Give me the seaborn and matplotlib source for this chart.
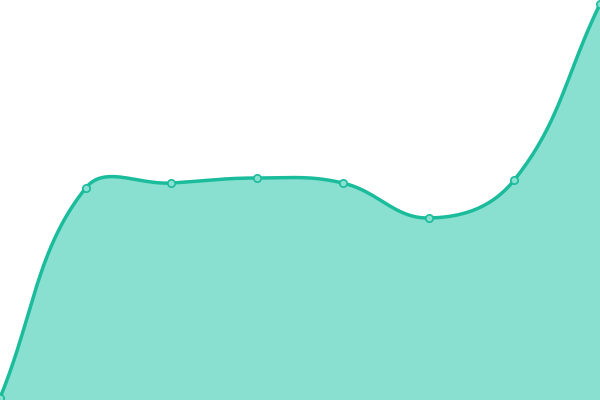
import numpy as np
import pandas as pd
import matplotlib
matplotlib.use("Agg")
import matplotlib.pyplot as plt
import seaborn as sns

categories = [0, 1, 2, 3, 4, 5, 6, 7]
values = [2, 212, 217, 222, 217, 182, 220, 396]

LINE = "#1abc9c"
FILL = "#8ae0d0"
TENSION = 0.4
XSCALE = 600 / 7  # pixels per category step (for distance weighting)

def bezier_spline(x, y, t=TENSION, n=40):
    P = np.column_stack([np.asarray(x, float) * XSCALE, np.asarray(y, float)])
    N = len(P)
    cin, cout = [], []
    for i in range(N):
        prev = P[i - 1] if i > 0 else P[i]
        nxt = P[i + 1] if i < N - 1 else P[i]
        d01 = np.hypot(*(P[i] - prev))
        d12 = np.hypot(*(nxt - P[i]))
        tot = d01 + d12
        s01 = d01 / tot if tot else 0
        s12 = d12 / tot if tot else 0
        cin.append(P[i] - t * s01 * (nxt - prev))
        cout.append(P[i] + t * s12 * (nxt - prev))
    xs, ys = [], []
    u = np.linspace(0, 1, n, endpoint=False)[:, None]
    for i in range(N - 1):
        p0, p1, p2, p3 = P[i], cout[i], cin[i + 1], P[i + 1]
        B = ((1 - u) ** 3) * p0 + 3 * ((1 - u) ** 2) * u * p1 + 3 * (1 - u) * u ** 2 * p2 + u ** 3 * p3
        xs.append(B[:, 0]); ys.append(B[:, 1])
    xs.append([P[-1, 0]]); ys.append([P[-1, 1]])
    return np.concatenate(xs) / XSCALE, np.concatenate(ys)

sx, sy = bezier_spline(categories, values)
curve = pd.DataFrame({"x": sx, "y": sy})
pts = pd.DataFrame({"x": categories, "y": values})

fig = plt.figure(figsize=(6, 4), dpi=100)
ax = fig.add_axes([0, 0, 1, 1])
ax.fill_between(sx, 0, sy, color=FILL, linewidth=0)
sns.lineplot(data=curve, x="x", y="y", ax=ax, color=LINE, linewidth=2.5, sort=False)
sns.scatterplot(data=pts, x="x", y="y", ax=ax, s=28, color=FILL, edgecolor=LINE,
                linewidth=1.2, zorder=5, clip_on=False)
ax.set_xlim(0, 7)
ax.set_ylim(0, 400)
ax.axis("off")
fig.savefig("out.png", dpi=100)
